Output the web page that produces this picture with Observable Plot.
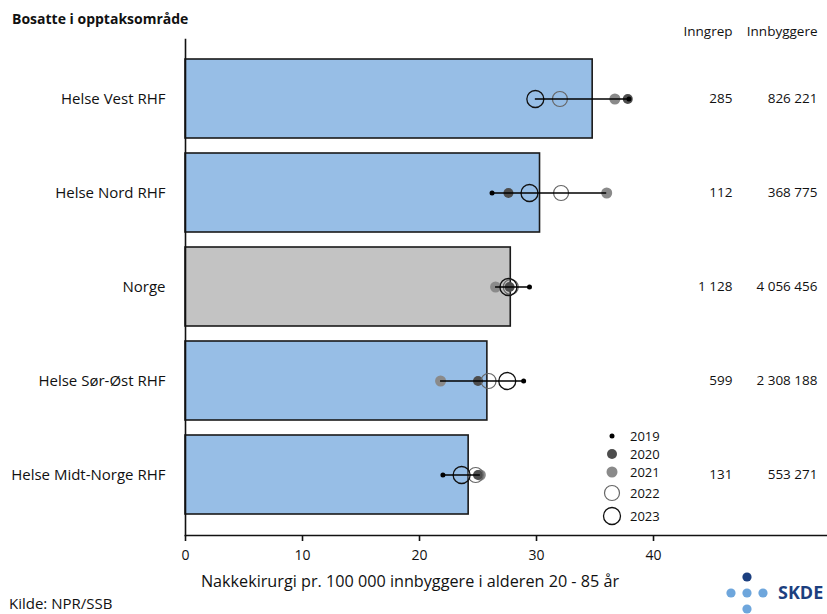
<!DOCTYPE html>
<html><head><meta charset="utf-8">
<script src="https://cdn.jsdelivr.net/npm/d3@7"></script>
<script src="https://cdn.jsdelivr.net/npm/@observablehq/plot@0.6"></script>
<style>
body{margin:0;background:#fff;font-family:"Open Sans",sans-serif;}
#wrap{position:relative;width:827px;height:614px;overflow:hidden;}
#wrap svg{font-family:"Open Sans",sans-serif;}
.abs{position:absolute;white-space:nowrap;color:#111;line-height:1;}
</style></head><body>
<div id="wrap"></div>
<script>
const regions = ["Helse Vest RHF","Helse Nord RHF","Norge","Helse Sør-Øst RHF","Helse Midt-Norge RHF"];
const rate2023 = [34.8, 30.3, 27.8, 25.8, 24.2];
const years = [2019, 2020, 2021, 2022, 2023];
const r2019 = [37.9, 26.2, 29.4, 28.9, 22.0];
const r2020 = [37.8, 27.6, 27.7, 25.0, 25.0];
const r2021 = [36.7, 36.0, 26.5, 21.8, 25.2];
const r2022 = [32.0, 32.1, 27.8, 25.9, 24.8];
const r2023 = [29.9, 29.4, 27.6, 27.5, 23.6];
const inngrep = [285, 112, 1128, 599, 131];
const innbyggere = [826221, 368775, 4056456, 2308188, 553271];
const xTicks = [0, 10, 20, 30, 40];

const nb = d3.formatLocale({decimal: ",", thousands: "\u00a0", grouping: [3], currency: ["", ""]});
const fmt = nb.format(",d");

const data = regions.map((r, i) => {
  const vals = [r2019[i], r2020[i], r2021[i], r2022[i], r2023[i]];
  return {region: r, rate: rate2023[i], y2019: r2019[i], y2020: r2020[i], y2021: r2021[i], y2022: r2022[i], y2023: r2023[i],
    lo: d3.min(vals), hi: d3.max(vals), inngrep: fmt(inngrep[i]), innb: fmt(innbyggere[i])};
});

const yearStyle = {
  2019: {r: 2.5, fill: "#000", stroke: "none"},
  2020: {r: 5, fill: "#4d4d4d", stroke: "none"},
  2021: {r: 5.5, fill: "#8a8a8a", stroke: "none"},
  2022: {r: 7.5, fill: "none", stroke: "#666", strokeWidth: 1.2},
  2023: {r: 8.5, fill: "none", stroke: "#111", strokeWidth: 1.3}
};

const chart = Plot.plot({
  width: 827, height: 600,
  marginTop: 39, marginBottom: 65, marginLeft: 185, marginRight: 0,
  x: {domain: [0, 54.87], ticks: xTicks, label: null},
  y: {domain: regions, paddingInner: 0.158, paddingOuter: 0.19, label: null},
  style: {fontSize: "14px", color: "#111"},
  marks: [
    Plot.barX(data, {x: "rate", y: "region", fill: d => d.region === "Norge" ? "#c3c3c3" : "#97bee6", stroke: "#1a1a1a", strokeWidth: 1.6}),
    Plot.frame({anchor: "left", stroke: "#111", strokeWidth: 1.6}),
    Plot.frame({anchor: "bottom", stroke: "#111", strokeWidth: 1.6}),
    Plot.axisX({ticks: xTicks, tickSize: 6, tickPadding: 9, fontSize: 14, label: null, strokeWidth: 1.6}),
    Plot.axisY({tickSize: 0, tickPadding: 20, fontSize: 15, label: null}),
    Plot.dot(data, {x: "y2021", y: "region", ...yearStyle[2021]}),
    Plot.dot(data, {x: "y2020", y: "region", ...yearStyle[2020]}),
    Plot.dot(data, {x: "y2022", y: "region", ...yearStyle[2022]}),
    Plot.dot(data, {x: "y2023", y: "region", ...yearStyle[2023]}),
    Plot.ruleY(data, {x1: "lo", x2: "hi", y: "region", stroke: "#000", strokeWidth: 1.6}),
    Plot.dot(data, {x: "y2019", y: "region", ...yearStyle[2019]}),
    Plot.text(data, {y: "region", text: "inngrep", frameAnchor: "right", dx: -95, textAnchor: "end", fontSize: 13.5, fill: "#111"}),
    Plot.text(data, {y: "region", text: "innb", frameAnchor: "right", dx: -10, textAnchor: "end", fontSize: 13.5, fill: "#111"}),
    Plot.text(["Inngrep"], {frameAnchor: "top-right", dx: -95, dy: -13, textAnchor: "end", fontSize: 13.5, fill: "#111"}),
    Plot.text(["Innbyggere"], {frameAnchor: "top-right", dx: -10, dy: -13, textAnchor: "end", fontSize: 13.5, fill: "#111"})
  ]
});
const wrap = document.getElementById("wrap");
wrap.appendChild(chart);
chart.style.position = "absolute"; chart.style.left = "0"; chart.style.top = "0";

function addText(txt, left, top, css) {
  const d = document.createElement("div");
  d.className = "abs"; d.textContent = txt;
  d.style.left = left + "px"; d.style.top = top + "px";
  Object.assign(d.style, css || {});
  wrap.appendChild(d);
  return d;
}
addText("Bosatte i opptaksområde", 12, 12, {fontWeight: "bold", fontSize: "14px"});
addText("Nakkekirurgi pr. 100 000 innbyggere i alderen 20 - 85 år", 410, 573, {fontSize: "16.2px", transform: "translateX(-50%)"});
addText("Kilde: NPR/SSB", 9, 596, {fontSize: "15px"});

// legend
const leg = d3.select(wrap).append("svg").attr("width", 90).attr("height", 104)
  .style("position", "absolute").style("left", "600px").style("top", "423px");
const legY = [13, 31, 49, 70, 93];
years.forEach((yr, i) => {
  const s = yearStyle[yr];
  leg.append("circle").attr("cx", 12).attr("cy", legY[i]).attr("r", s.r)
    .attr("fill", s.fill).attr("stroke", s.stroke).attr("stroke-width", s.strokeWidth || 0);
  leg.append("text").attr("x", 30).attr("y", legY[i]).attr("dy", "0.35em")
    .attr("font-size", 13).attr("font-family", "Open Sans, sans-serif").attr("fill", "#111").text(yr);
});

// logo
const logo = d3.select(wrap).append("svg").attr("width", 120).attr("height", 50)
  .style("position", "absolute").style("left", "707px").style("top", "564px");
logo.append("circle").attr("cx", 40).attr("cy", 13).attr("r", 4.6).attr("fill", "#1c3f7f");
[24, 40, 56].forEach(cx => logo.append("circle").attr("cx", cx).attr("cy", 29).attr("r", 4.6).attr("fill", "#6ea6dc"));
logo.append("circle").attr("cx", 40).attr("cy", 45).attr("r", 4.6).attr("fill", "#6ea6dc");
logo.append("text").attr("x", 71).attr("y", 29).attr("dy", "0.36em").attr("font-size", 18).attr("font-weight", "bold")
  .attr("font-family", "Open Sans, sans-serif").attr("fill", "#1c3f7f").text("SKDE");
</script>
</body></html>
